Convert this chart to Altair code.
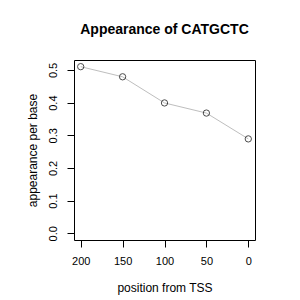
import altair as alt
import pandas as pd

positions = [200, 150, 100, 50, 0]
appearance = [0.510, 0.479, 0.399, 0.368, 0.289]
x_ticks = [0, 50, 100, 150, 200]
y_ticks = [0.0, 0.1, 0.2, 0.3, 0.4, 0.5]

df = pd.DataFrame({"position": positions, "appearance": appearance})

FONT = "Liberation Sans"

x_enc = alt.X(
    "position:Q",
    scale=alt.Scale(domain=[-8, 208], reverse=True, nice=False, zero=False),
    axis=alt.Axis(
        values=x_ticks, title="position from TSS", grid=False, domain=False,
        tickSize=7, tickColor="black", labelPadding=8, labelFontSize=11,
        labelFont=FONT, labelColor="black", titleFont=FONT, titleFontSize=12,
        titleFontWeight="normal", titleColor="black", titleY=47,
        titleBaseline="middle", labelFlush=False,
    ),
)
y_enc = alt.Y(
    "appearance:Q",
    scale=alt.Scale(domain=[-0.0204, 0.5304], nice=False, zero=False),
    axis=alt.Axis(
        values=y_ticks, format=".1f", title="appearance per base", grid=False,
        domain=False, tickSize=7, tickColor="black", labelPadding=9,
        labelFontSize=11, labelFont=FONT, labelColor="black", labelAngle=270,
        labelAlign="center", labelBaseline="bottom", titleFont=FONT,
        titleFontSize=12, titleFontWeight="normal", titleColor="black",
        titleX=-42, titleY=90, titleBaseline="middle", titleAlign="center",
        labelFlush=False,
    ),
)

line = alt.Chart(df).mark_line(color="#bebebe", strokeWidth=1).encode(x=x_enc, y=y_enc)
pts = alt.Chart(df).mark_point(
    shape="circle", filled=False, color="black", size=40, strokeWidth=1
).encode(x=x_enc, y=y_enc)

chart = (
    alt.layer(line, pts)
    .properties(
        width=181,
        height=180,
        title=alt.TitleParams(
            "Appearance of CATGCTC", font=FONT, fontSize=14, fontWeight="bold",
            color="black", anchor="middle", baseline="alphabetic", offset=12,
        ),
        autosize=alt.AutoSizeParams(type="none"),
        padding={"left": 74, "top": 60, "right": 45, "bottom": 60},
        background="white",
    )
    .configure_view(stroke="black", strokeWidth=1)
)

chart.save("out.html", embed_options={"renderer": "svg", "actions": False})
